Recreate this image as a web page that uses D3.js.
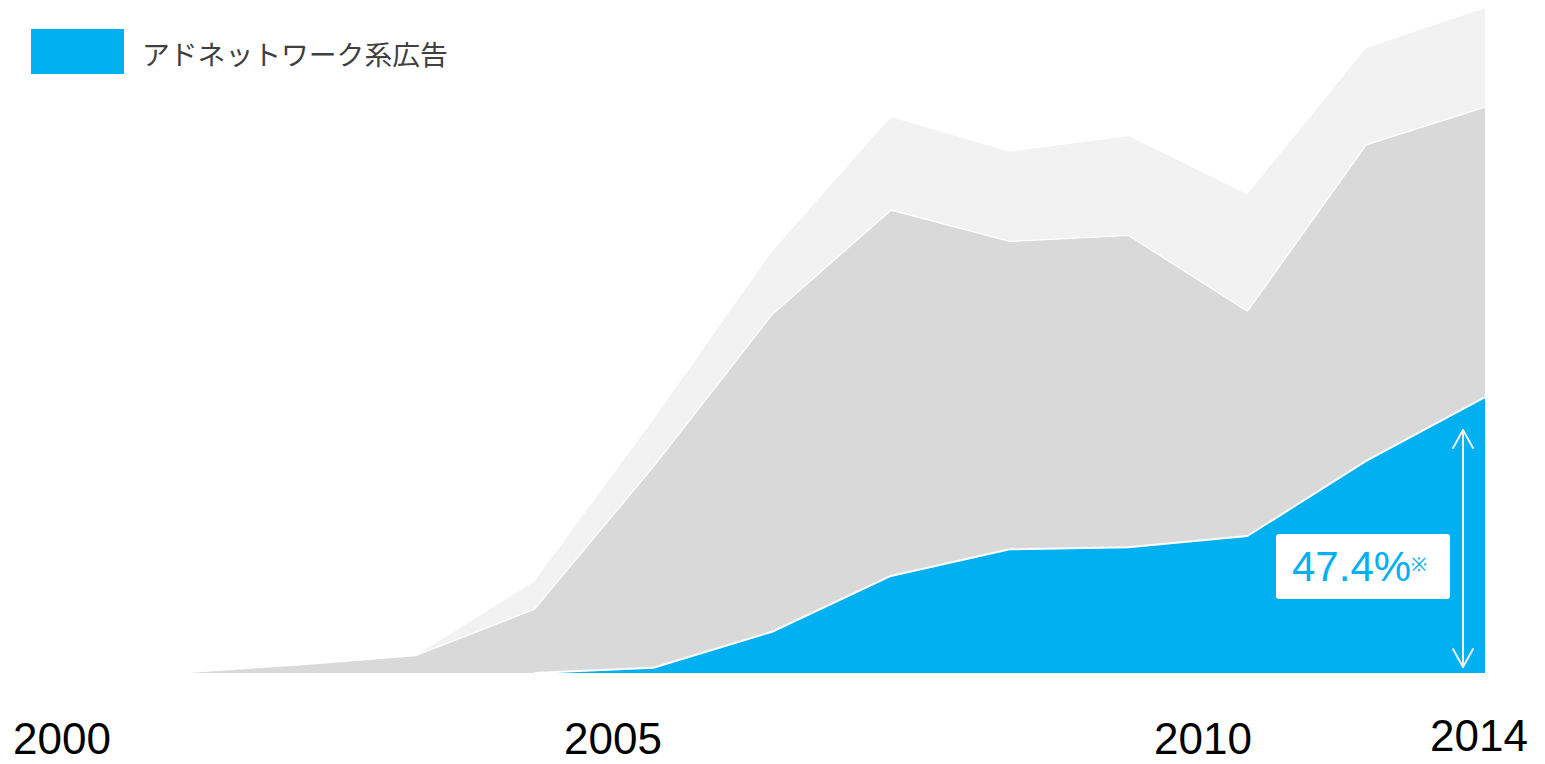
<!DOCTYPE html>
<html>
<head>
<meta charset="utf-8">
<script src="https://cdn.jsdelivr.net/npm/d3@7"></script>
<style>
  html, body { margin: 0; padding: 0; background: #ffffff; }
  svg { display: block; }
</style>
</head>
<body>
<svg id="chart" width="1545" height="764"></svg>
<script>
// ---- data ----
const periods = [0, 1, 2, 3, 4, 5, 6, 7, 8, 9, 10, 11];
const adNetwork = [0, 0, 0, 0, 0.8, 6.2, 14.6, 18.6, 18.9, 20.6, 31.9, 41.5];
const otherMid  = [0, 1.2, 2.6, 9.6, 30.2, 47.7, 55.0, 46.3, 46.9, 33.8, 47.5, 43.6];
const otherTop  = [0, 0, 0, 4.2, 7.1, 9.5, 14.0, 13.5, 14.9, 17.6, 14.6, 14.9];
const seriesKeys = ["adNetwork", "otherMid", "otherTop"];
const yearLabels = ["2000", "2005", "2010", "2014"];
const legendLabel = "アドネットワーク系広告";
const shareLabel = "47.4%";
const noteMark = "※";

// ---- layout ----
const yearLabelX = [62, 613, 1203, 1479];
const yearLabelY = [754, 754, 754, 751];
const colors = { adNetwork: "#00B0F0", otherMid: "#D9D9D9", otherTop: "#F2F2F2" };

const svg = d3.select("#chart");
const table = periods.map((p, i) => ({
  period: p, adNetwork: adNetwork[i], otherMid: otherMid[i], otherTop: otherTop[i]
}));

const x = d3.scaleLinear().domain([0, 11]).range([178, 1485]);
const y = d3.scaleLinear().domain([0, 100]).range([673, 8]);

const stacked = d3.stack().keys(seriesKeys)(table);

const area = d3.area()
  .x(d => x(d.data.period))
  .y0(d => y(d[0]))
  .y1(d => y(d[1]));
const topLine = d3.line()
  .x(d => x(d.data.period))
  .y(d => y(d[1]));

const layers = stacked.slice().reverse();
svg.selectAll("path.area").data(layers).join("path")
  .attr("class", "area")
  .attr("d", area)
  .attr("fill", d => colors[d.key]);

svg.selectAll("path.sep").data(stacked.filter(s => s.key !== "otherTop")).join("path")
  .attr("class", "sep")
  .attr("d", s => topLine(s.filter((d, i) => s.key !== "adNetwork" || i >= 3)))
  .attr("fill", "none")
  .attr("stroke", "#ffffff")
  .attr("stroke-width", d => d.key === "adNetwork" ? 2 : 1.3)
  .attr("stroke-linejoin", "round");

svg.selectAll("text.year").data(yearLabels).join("text")
  .attr("class", "year")
  .attr("x", (d, i) => yearLabelX[i])
  .attr("y", (d, i) => yearLabelY[i])
  .attr("text-anchor", "middle")
  .attr("font-family", "'Liberation Sans', Arial, sans-serif")
  .attr("font-size", 44)
  .attr("fill", "#000000")
  .text(d => d);

svg.append("rect")
  .attr("x", 31).attr("y", 29).attr("width", 93).attr("height", 45)
  .attr("fill", colors.adNetwork);
svg.append("text")
  .attr("x", 142).attr("y", 65)
  .attr("font-family", "'Noto Sans CJK JP', 'Noto Sans', sans-serif")
  .attr("font-size", 27.8)
  .attr("fill", "#404040")
  .text(legendLabel);

const last = periods.length - 1;
const arrowX = x(periods[last]) - 22;
const arrowTop = y(adNetwork[last]) + 33;
const arrowBottom = y(0) - 6;
const g = svg.append("g")
  .attr("stroke", "#eeeeee").attr("stroke-width", 2).attr("fill", "none")
  .attr("stroke-linecap", "round").attr("stroke-linejoin", "round");
g.append("line").attr("x1", arrowX).attr("x2", arrowX).attr("y1", arrowTop).attr("y2", arrowBottom);
g.append("path").attr("d", `M${arrowX - 10},${arrowTop + 18} L${arrowX},${arrowTop} L${arrowX + 10},${arrowTop + 18}`);
g.append("path").attr("d", `M${arrowX - 10},${arrowBottom - 18} L${arrowX},${arrowBottom} L${arrowX + 10},${arrowBottom - 18}`);

svg.append("rect")
  .attr("x", 1276).attr("y", 534).attr("width", 174).attr("height", 65)
  .attr("rx", 3).attr("ry", 3)
  .attr("fill", "#ffffff");
const t = svg.append("text")
  .attr("x", 1292).attr("y", 581)
  .attr("font-family", "'Liberation Sans', Arial, sans-serif")
  .attr("fill", colors.adNetwork);
t.append("tspan").attr("font-size", 42).text(shareLabel);
t.append("tspan").attr("font-size", 19).attr("dy", -10).attr("dx", 0).text(noteMark);
</script>
</body>
</html>
